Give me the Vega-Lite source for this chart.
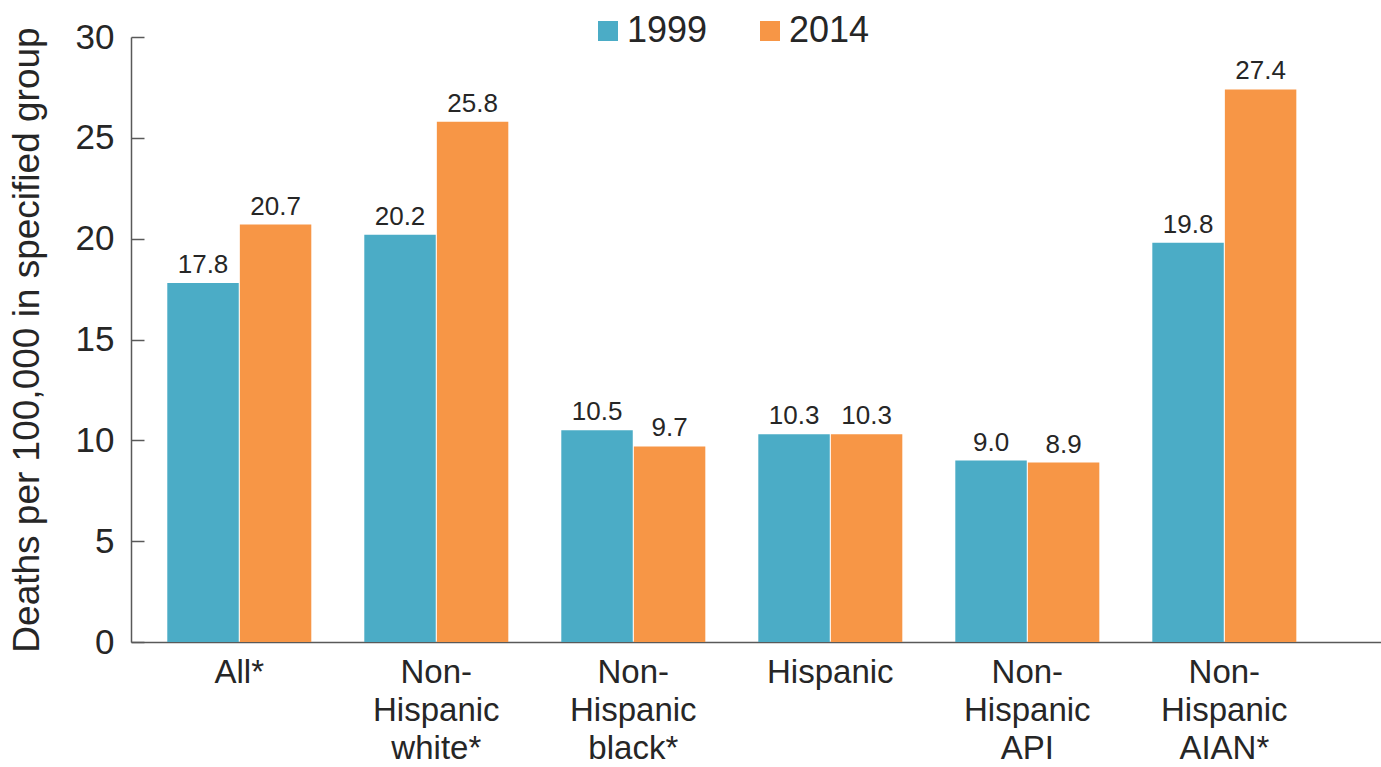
{
  "$schema": "https://vega.github.io/schema/vega-lite/v6.json",
  "autosize": {"type": "none"},
  "width": 1250,
  "height": 605,
  "padding": {"left": 131, "top": 37, "right": 0, "bottom": 125},
  "background": "white",
  "config": {
    "font": "Liberation Sans",
    "view": {"stroke": null},
    "axis": {"domainColor": "#595959", "tickColor": "#595959", "labelColor": "#262626", "titleColor": "#262626"}
  },
  "data": {
    "values": [
      {"group": "All*", "year": "1999", "rate": 17.8},
      {"group": "All*", "year": "2014", "rate": 20.7},
      {"group": "Non-Hispanic white*", "year": "1999", "rate": 20.2},
      {"group": "Non-Hispanic white*", "year": "2014", "rate": 25.8},
      {"group": "Non-Hispanic black*", "year": "1999", "rate": 10.5},
      {"group": "Non-Hispanic black*", "year": "2014", "rate": 9.7},
      {"group": "Hispanic", "year": "1999", "rate": 10.3},
      {"group": "Hispanic", "year": "2014", "rate": 10.3},
      {"group": "Non-Hispanic API", "year": "1999", "rate": 9.0},
      {"group": "Non-Hispanic API", "year": "2014", "rate": 8.9},
      {"group": "Non-Hispanic AIAN*", "year": "1999", "rate": 19.8},
      {"group": "Non-Hispanic AIAN*", "year": "2014", "rate": 27.4}
    ]
  },
  "encoding": {
    "x": {
      "field": "group", "type": "nominal", "sort": null,
      "scale": {"paddingInner": 0.269, "paddingOuter": 0.307, "align": 0.3},
      "axis": {
        "title": null, "ticks": false, "labelAngle": 0, "labelFontSize": 33,
        "labelLineHeight": 38, "labelPadding": 14, "labelBaseline": "top",
        "labelExpr": "split(replace(datum.label, 'Non-Hispanic ', 'Non-|Hispanic|'), '|')",
        "domainWidth": 1.5
      }
    },
    "xOffset": {"field": "year", "type": "nominal", "scale": {"paddingInner": 0.015}},
    "y": {
      "field": "rate", "type": "quantitative",
      "scale": {"domain": [0, 30], "nice": false},
      "axis": {
        "title": "Deaths per 100,000 in specified group", "titleFontSize": 37, "titleFontWeight": "normal",
        "titlePadding": 29, "values": [0, 5, 10, 15, 20, 25, 30], "grid": false,
        "tickSize": -13, "labelFontSize": 35, "labelPadding": 30, "domainWidth": 1.5, "tickWidth": 1.5
      }
    }
  },
  "layer": [
    {
      "mark": {"type": "bar"},
      "encoding": {
        "color": {
          "field": "year", "type": "nominal",
          "scale": {"domain": ["1999", "2014"], "range": ["#4BACC6", "#F79646"]},
          "legend": {
            "title": null, "orient": "none", "direction": "horizontal",
            "legendX": 459, "legendY": -24, "symbolType": "square", "symbolSize": 400,
            "labelFontSize": 36, "labelColor": "#262626", "columnPadding": 44, "labelOffset": 1
          }
        }
      }
    },
    {
      "mark": {"type": "text", "baseline": "bottom", "dy": -5, "fontSize": 26, "color": "#262626"},
      "encoding": {"text": {"field": "rate", "type": "quantitative", "format": ".1f"}}
    }
  ]
}
